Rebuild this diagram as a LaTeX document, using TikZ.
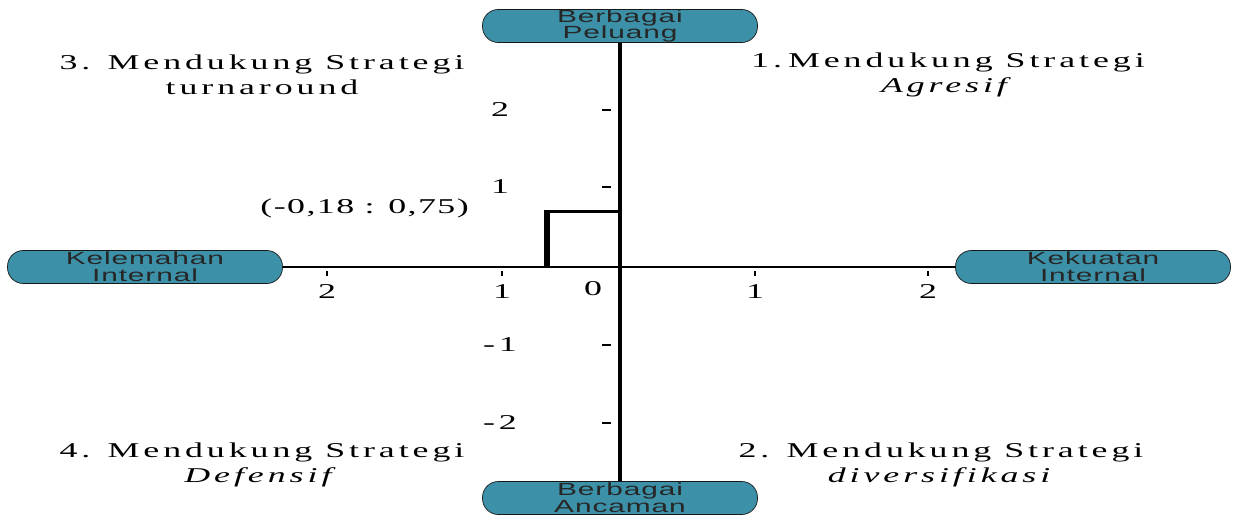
\documentclass[tikz,border=0pt]{standalone}
\usepackage{fontspec}
\setmainfont{Liberation Serif}
\newfontfamily\lebarserif[LetterSpace=11]{Liberation Serif}
\newfontfamily\lebarseriftitik[LetterSpace=4]{Liberation Serif}
\newfontfamily\lebarsans[LetterSpace=3]{Liberation Sans}
\usetikzlibrary{positioning}
\definecolor{pil}{RGB}{60,145,168}
\newcommand{\lebar}[1]{\scalebox{1.7}[1]{#1}}

\begin{document}
\begin{tikzpicture}[x=0.02cm, y=-0.02cm,
    pill/.style={draw=black!90, fill=pil, rounded corners=9pt, minimum width=5.5cm, minimum height=0.66cm, inner sep=0pt, align=center, font=\lebarsans\fontsize{10}{9.5}\selectfont, text=black!85},
    kuadran/.style={align=center, font=\lebarserif\fontsize{12}{14.5}\selectfont},
    angka/.style={font=\lebarserif\fontsize{12}{12}\selectfont},
    sumbu/.style={line width=1.1pt},
    sumbutegak/.style={line width=2.8pt},
    tanda/.style={line width=0.6pt}
]
\useasboundingbox (0,0) rectangle (1235,515);

\node[pill] (atas) at (620,26) {\lebar{Berbagai}\\\lebar{Peluang}};
\node[pill] (bawah) at (620,498) {\lebar{Berbagai}\\\lebar{Ancaman}};
\node[pill] (kiri) at (145,267) {\lebar{Kelemahan}\\\lebar{Internal}};
\node[pill] (kanan) at (1093,267) {\lebar{Kekuatan}\\\lebar{Internal}};

\draw[sumbu] (kiri.east) -- (kanan.west);
\draw[sumbutegak] (atas.south) -- (bawah.north);

\foreach \y/\t [count=\i] in {110/2,187/1,345/-1,423/-2} {
    \node[angka] (ly\i) at (500,\y) {\lebar{\t}};
    \draw[tanda] (602,\y) -- (611,\y);
}
\foreach \x/\t [count=\i] in {327/2,502/1,755/1,928/2} {
    \node[angka] (lx\i) at (\x,292) {\lebar{\t}};
    \draw[tanda] (\x,271) -- (\x,276);
}
\node[angka] (nol) at (593,289) {\lebar{0}};

\coordinate (kaki) at (547,266);
\coordinate (sudut) at (547,211);
\coordinate (ujung) at (618,211);
\draw[line width=3.8pt] (kaki) -- (sudut);
\draw[line width=1.7pt] ([xshift=-1.9pt]sudut) -- (ujung);
\node[angka, anchor=east, font=\lebarseriftitik\fontsize{12}{12}\selectfont] (titik) at (475,208) {\lebar{(-0,18 : 0,75)}};

\node[kuadran] (q3) at (262,75) {\lebar{3. Mendukung Strategi}\\\lebar{turnaround}};
\node[kuadran] (q1) at (948,75) {\lebar{1.\,Mendukung Strategi}\\\lebar{\textit{Agresif}}};
\node[kuadran] (q4) at (262,465) {\lebar{4. Mendukung Strategi}\\\lebar{\textit{Defensif}}};
\node[kuadran] (q2) at (941,465) {\lebar{2. Mendukung Strategi}\\\lebar{\textit{diversifikasi}}};
\end{tikzpicture}
\end{document}
